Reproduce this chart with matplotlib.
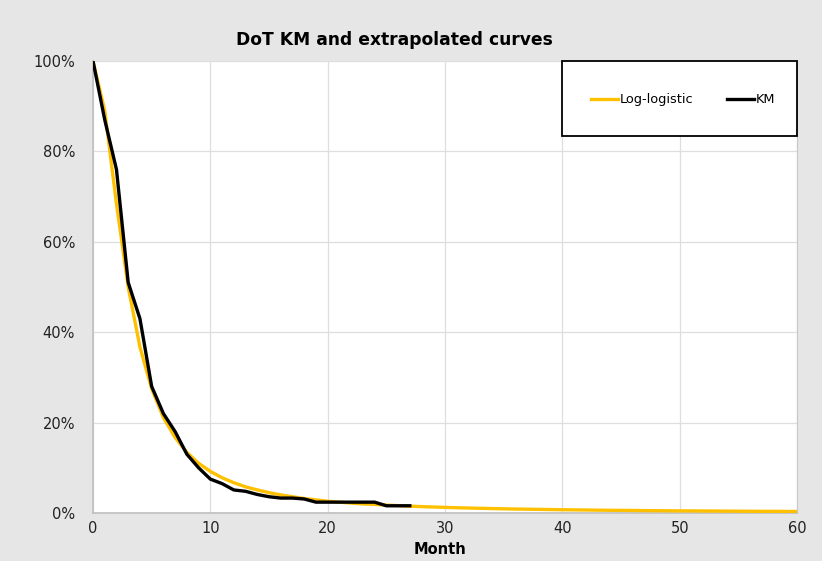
import matplotlib
matplotlib.use("Agg")
import matplotlib.pyplot as plt
from matplotlib.patches import Rectangle
from matplotlib.ticker import FuncFormatter

# KM curve (months, % on treatment)
km_month = [0, 1, 2, 3, 4, 5, 6, 7, 8, 9, 10, 11, 12, 13, 14, 15, 16, 17, 18, 19, 20, 21, 22, 23, 24, 25, 26, 27]
km_pct = [100, 87, 76, 51, 43, 28, 22, 18, 13, 10, 7.5, 6.5, 5.1, 4.8, 4.1, 3.6, 3.3, 3.3, 3.1, 2.4, 2.4, 2.4, 2.4, 2.4, 2.4, 1.6, 1.6, 1.6]

# Log-logistic extrapolation (months 0..60, %)
ll_month = list(range(0, 61))
ll_pct = [100, 89, 68.4, 50, 36.7, 27.5, 21.1, 16.7, 13.4, 11.0, 9.2,
          7.8, 6.7, 5.8, 5.1, 4.5, 4.0, 3.6, 3.2, 2.9, 2.6,
          2.4, 2.2, 2.0, 1.9, 1.75, 1.63, 1.52, 1.41, 1.33, 1.24,
          1.17, 1.10, 1.04, 0.98, 0.93, 0.88, 0.84, 0.80, 0.76, 0.72,
          0.69, 0.66, 0.63, 0.60, 0.58, 0.56, 0.53, 0.51, 0.49, 0.47,
          0.46, 0.44, 0.43, 0.41, 0.40, 0.38, 0.37, 0.36, 0.35, 0.34]

legend_labels = ["Log-logistic", "KM"]
title = "DoT KM and extrapolated curves"
xlabel = "Month"
x_ticks = [0, 10, 20, 30, 40, 50, 60]
y_ticks = [0, 20, 40, 60, 80, 100]

BG = "#e6e6e6"
fig = plt.figure(figsize=(8.22, 5.61), dpi=100, facecolor=BG)
ax = fig.add_axes([93/822, 1-513/561, (797-93)/822, (513-61)/561])
ax.set_facecolor("white")

ax.plot(ll_month, ll_pct, color="#FFC000", lw=2.4, label=legend_labels[0], zorder=3)
ax.plot(km_month, km_pct, color="black", lw=2.4, label=legend_labels[1], zorder=4)

ax.set_xlim(0, 60)
ax.set_ylim(0, 100)
ax.set_xticks(x_ticks)
ax.set_yticks(y_ticks)
ax.yaxis.set_major_formatter(FuncFormatter(lambda v, p: f"{int(v)}%"))
ax.grid(True, color="#dedede", lw=0.9)
ax.set_axisbelow(True)
ax.tick_params(length=0, labelsize=10.5, colors="#222222")
ax.tick_params(axis="y", pad=13)
ax.tick_params(axis="x", pad=6)
ax.spines["top"].set_visible(False)
ax.spines["right"].set_color("#c8c8c8")
ax.spines["left"].set_color("#bfbfbf")
ax.spines["bottom"].set_color("#bfbfbf")
ax.spines["left"].set_linewidth(1.2)
ax.spines["bottom"].set_linewidth(1.2)

# legend box
x0 = (562-93)/704
y0 = (513-136)/452
rect = Rectangle((x0, y0), 1-x0, 1-y0, transform=ax.transAxes, facecolor="white",
                 edgecolor="black", lw=1.3, zorder=5, clip_on=False)
ax.add_patch(rect)
leg = ax.legend(loc="center", bbox_to_anchor=((x0+1)/2 + 0.005, (y0+1)/2 - 0.003), bbox_transform=ax.transAxes,
                ncol=2, frameon=False, fontsize=9.3, handlelength=2.1, handletextpad=0.1,
                columnspacing=2.6)
leg.set_zorder(6)

fig.text(394/822, 1-40/561, title, ha="center", va="center", fontsize=12.3, fontweight="bold")
fig.text(440/822, 1-550/561, xlabel, ha="center", va="center", fontsize=10.5, fontweight="bold")

fig.savefig("out.png", dpi=100, facecolor=BG)
